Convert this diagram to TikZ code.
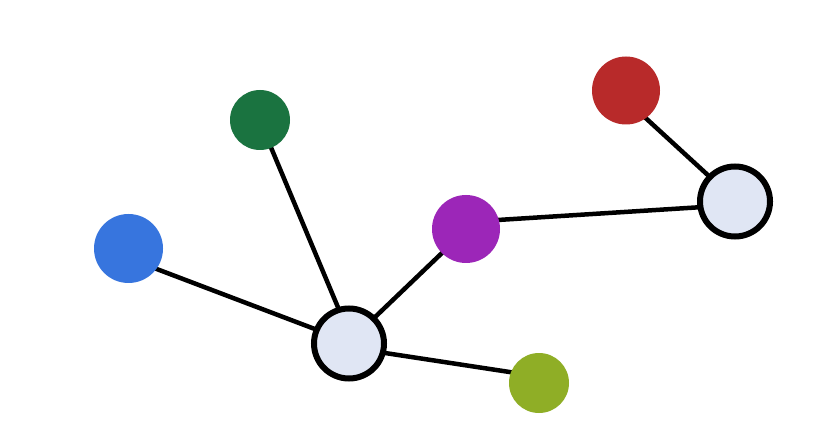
\documentclass[tikz,border=0pt]{standalone}
\definecolor{cgreen}{HTML}{1A7340}
\definecolor{cred}{HTML}{B82A2A}
\definecolor{cblue}{HTML}{3775DE}
\definecolor{cpurple}{HTML}{9C26B8}
\definecolor{colive}{HTML}{8FAE26}
\definecolor{chub}{HTML}{E0E6F4}
\begin{document}
\begin{tikzpicture}[x=1pt,y=-1pt,
  leaf/.style={circle,inner sep=0pt,minimum size=#1},
  hub/.style={circle,draw=black,line width=6pt,fill=chub,inner sep=0pt,minimum size=70pt},
  edge/.style={line width=4.5pt,black}]
\useasboundingbox[fill=white] (0,0) rectangle (830,438);
% edge end points
\coordinate (gA) at (259.5,120);   \coordinate (gB) at (352.5,342);
\coordinate (bA) at (129,258.5);   \coordinate (bB) at (349,342);
\coordinate (pA) at (466,230);     \coordinate (pB) at (349,342);
\coordinate (oA) at (539,376.5);   \coordinate (oB) at (349,347.5);
\coordinate (qA) at (466,222);     \coordinate (qB) at (735,205);
\coordinate (rA) at (626,100);     \coordinate (rB) at (735,200);
\draw[edge] (gA) -- (gB);
\draw[edge] (bA) -- (bB);
\draw[edge] (pA) -- (pB);
\draw[edge] (oA) -- (oB);
\draw[edge] (qA) -- (qB);
\draw[edge] (rA) -- (rB);
% nodes
\node[leaf=60pt,fill=cgreen] (g) at (260,120) {};
\node[leaf=68pt,fill=cred] (r) at (626,90.5) {};
\node[leaf=69pt,fill=cblue] (b) at (128.5,248.5) {};
\node[leaf=68pt,fill=cpurple] (p) at (466,229) {};
\node[leaf=60pt,fill=colive] (o) at (539,383) {};
\node[hub] (h1) at (349,343.5) {};
\node[hub] (h2) at (735,201.5) {};
\end{tikzpicture}
\end{document}
